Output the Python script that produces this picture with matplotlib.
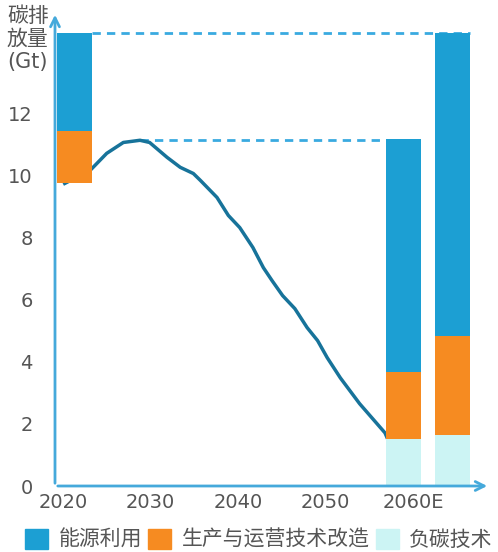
import matplotlib
matplotlib.use("Agg")
from matplotlib import pyplot as plt
from matplotlib.patches import Patch

plt.rcParams['font.family'] = ['DejaVu Sans', 'Noto Sans CJK SC']

# 数据
line_years = [2020.2, 2023.1, 2025.0, 2026.9, 2028.8, 2029.9, 2031.9, 2033.4, 2034.9,
              2035.7, 2037.6, 2038.9, 2040.2, 2041.7, 2042.9, 2043.9, 2045.1, 2046.5,
              2047.9, 2049.1, 2050.2, 2051.7, 2053.9, 2056.8, 2057.0]
line_vals = [9.74, 10.16, 10.71, 11.06, 11.13, 11.06, 10.58, 10.26, 10.06,
             9.84, 9.29, 8.71, 8.32, 7.68, 7.03, 6.61, 6.13, 5.71,
             5.10, 4.68, 4.13, 3.48, 2.65, 1.71, 1.58]

bar_base = [9.74, 0, 0]
neg_carbon = [0, 1.52, 1.65]
production = [1.68, 2.16, 3.19]
energy = [3.16, 7.48, 9.76]

tick_years = [2020, 2030, 2040, 2050, 2060]
tick_labels = ['2020', '2030', '2040', '2050', '2060E']
legend_labels = ['能源利用', '生产与运营技术改造', '负碳技术']

# 样式
c_blue = '#1C9FD3'
c_orange = '#F68B21'
c_cyan = '#CCF4F4'
c_line = '#17739A'
c_axis = '#45A9DB'
c_text = '#555555'

bar_x = [2021.3, 2058.9, 2064.55]
bar_w = 4.0

fig = plt.figure(figsize=(4.98, 5.52), dpi=100)
ax = fig.add_axes([55 / 498, (552 - 486) / 552, (490 - 55) / 498, (486 - 12) / 552])

b1 = [bar_base[i] for i in range(3)]
b2 = [b1[i] + neg_carbon[i] for i in range(3)]
b3 = [b2[i] + production[i] for i in range(3)]
ax.bar(bar_x, neg_carbon, bar_w, bottom=b1, color=c_cyan, zorder=3)
ax.bar(bar_x, production, bar_w, bottom=b2, color=c_orange, zorder=3)
ax.bar(bar_x, energy, bar_w, bottom=b3, color=c_blue, zorder=3)

# 虚线
top_total = b3[0] + energy[0]
ax.plot([bar_x[0] + bar_w / 2, bar_x[2] + bar_w / 2], [top_total, top_total],
        ls=(0, (3, 2.2)), color='#3AAAE0', lw=2, zorder=1)
peak = max(line_vals)
peak_x = line_years[line_vals.index(peak)]
ax.plot([peak_x, bar_x[1] - bar_w / 2], [peak, peak],
        ls=(0, (3, 2.2)), color='#3AAAE0', lw=2, zorder=1)

ax.plot(line_years, line_vals, color=c_line, lw=2.5, zorder=2)

ax.set_xlim(2019.09, 2068.8)
ax.set_ylim(0, 15.26)
ax.set_xticks(tick_years)
ax.set_xticklabels(tick_labels)
ax.set_yticks([0, 2, 4, 6, 8, 10, 12])
ax.tick_params(axis='both', length=0, labelsize=14, colors=c_text)
ax.tick_params(axis='y', pad=16)
ax.tick_params(axis='x', pad=5)
for s in ax.spines.values():
    s.set_visible(False)

ax.annotate('', xy=(0, 1.0), xytext=(0, 0), xycoords='axes fraction',
            arrowprops=dict(arrowstyle='->', color=c_axis, lw=2, mutation_scale=16))
ax.annotate('', xy=(1.0, 0), xytext=(0, 0), xycoords='axes fraction',
            arrowprops=dict(arrowstyle='->', color=c_axis, lw=2, mutation_scale=16))

fig.text(7 / 498, 1 - 6 / 552, '碳排\n放量\n(Gt)', ha='left', va='top',
         fontsize=15, color=c_text, linespacing=1.2)

handles = [Patch(color=c_blue), Patch(color=c_orange), Patch(color=c_cyan)]
fig.legend(handles, legend_labels, ncol=3, loc='lower center', bbox_to_anchor=(0.52, -0.03),
           frameon=False, fontsize=15, handlelength=1.1, handleheight=1.1,
           columnspacing=0.3, handletextpad=0.5, labelcolor=c_text)

fig.savefig('out.png', dpi=100)
